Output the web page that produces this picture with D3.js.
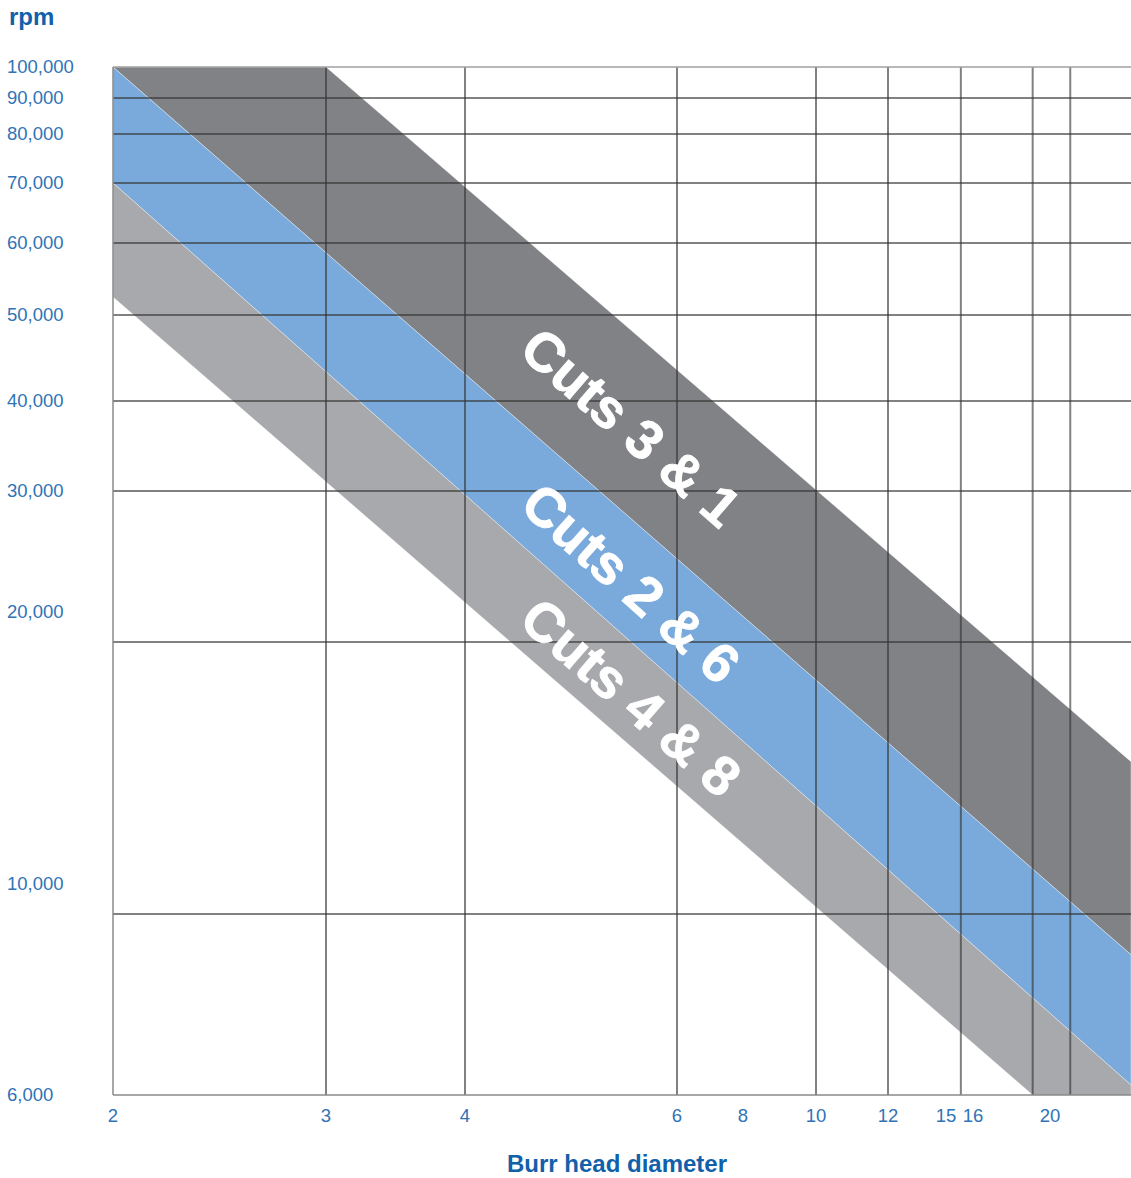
<!DOCTYPE html>
<html>
<head>
<meta charset="utf-8">
<script src="https://cdn.jsdelivr.net/npm/d3@7"></script>
<style>
  body { margin: 0; background: #fff; }
  svg { display: block; font-family: "Liberation Sans", Arial, sans-serif; }
</style>
</head>
<body>
<div id="chart"></div>
<script>
// tick labels
const xTickValues = [2, 3, 4, 6, 8, 10, 12, 15, 16, 20];
const yTickValues = [100000, 90000, 80000, 70000, 60000, 50000, 40000, 30000, 20000, 10000, 6000];
// grid lines (the vertical ones sit off the labels in the original)
const xGridValues = [3, 4, 6, 10, 12, 15.55, 19.1, 21];
const yGridValues = [90000, 80000, 70000, 60000, 50000, 40000, 30000, 20000, 10000];

// bands: upper and lower edge, each from left end to right end (diameter, rpm)
const bandNames = ["Cuts 3 & 1", "Cuts 2 & 6", "Cuts 4 & 8"];
const bandUpper = [
  [[3, 100000], [24, 15600]],
  [[2, 100000], [24, 9100]],
  [[2, 70000], [24, 6220]]
];
const bandLower = [
  [[2, 100000], [24, 9100]],
  [[2, 70000], [24, 6220]],
  [[2, 52500], [19.1, 6000]]
];
const bandLabelAt = 5.57; // diameter where the labels are centred

// ---- layout ----
const W = 1131, H = 1178;
const m = { left: 113, top: 67, right: 1131, bottom: 1095 };
const blueText = "#2f73b6", blueTitle = "#1160aa";
const bandColors = ["#818285", "#7aaadb", "#a8a9ac"];

// the original axes are hand drawn, so both scales are piecewise
const x = d3.scaleLinear()
  .domain([2, 3, 4, 6, 8, 10, 12, 15, 16, 20, 24])
  .range([m.left, 326, 465, 677, 743, 816, 888, 946, 973, 1050, m.right]);
const y = d3.scaleLinear()
  .domain([100000, 90000, 80000, 70000, 60000, 50000, 40000, 30000, 20000, 10000, 6000])
  .range([m.top, 98, 134, 183, 243, 315, 401, 491, 642, 914, m.bottom]);

const svg = d3.select("#chart").append("svg")
  .attr("width", W)
  .attr("height", H);

svg.append("clipPath").attr("id", "plot")
  .append("rect")
  .attr("x", m.left).attr("y", m.top)
  .attr("width", m.right - m.left).attr("height", m.bottom - m.top);

const px = p => [x(p[0]), y(p[1])];
// extend a pixel-space edge to the right border
function toRight(edge) {
  const a = px(edge[0]), b = px(edge[1]);
  const k = (b[1] - a[1]) / (b[0] - a[0]);
  return [a, [m.right, a[1] + k * (m.right - a[0])]];
}

const bands = svg.append("g").attr("clip-path", "url(#plot)");
bandNames.forEach((name, i) => {
  const up = toRight(bandUpper[i]);
  const lo = toRight(bandLower[i]);
  const pts = [up[0], up[1], lo[1], lo[0]];
  bands.append("path")
    .attr("d", "M" + pts.join("L") + "Z")
    .attr("fill", bandColors[i])
    .attr("stroke", "#ffffff")
    .attr("stroke-opacity", 0.45)
    .attr("stroke-width", 0.8);
});

// grid
const grid = svg.append("g")
  .attr("stroke", "#333")
  .attr("stroke-opacity", 0.62)
  .attr("stroke-width", 2);
grid.selectAll(".h").data(yGridValues).enter().append("line")
  .attr("x1", m.left).attr("x2", m.right)
  .attr("y1", d => y(d)).attr("y2", d => y(d));
grid.selectAll(".v").data(xGridValues).enter().append("line")
  .attr("y1", m.top).attr("y2", m.bottom)
  .attr("x1", d => x(d)).attr("x2", d => x(d));

// frame
svg.append("line").attr("x1", m.left).attr("x2", m.right)
  .attr("y1", y(100000)).attr("y2", y(100000))
  .attr("stroke", "#a0a0a0").attr("stroke-width", 1.5);
svg.append("line").attr("x1", m.left).attr("x2", m.right)
  .attr("y1", y(6000)).attr("y2", y(6000))
  .attr("stroke", "#8a8a8a").attr("stroke-width", 1.5);
svg.append("line").attr("x1", x(2)).attr("x2", x(2))
  .attr("y1", m.top).attr("y2", m.bottom)
  .attr("stroke", "#8a8a8a").attr("stroke-width", 1.5);

// band labels, rotated along the band
bandNames.forEach((name, i) => {
  const up = toRight(bandUpper[i]);
  const lo = toRight(bandLower[i]);
  const cx = x(bandLabelAt);
  const yAt = e => e[0][1] + (e[1][1] - e[0][1]) * (cx - e[0][0]) / (e[1][0] - e[0][0]);
  const cy = (yAt(up) + yAt(lo)) / 2;
  const ang = Math.atan2(lo[1][1] - lo[0][1], lo[1][0] - lo[0][0]) * 180 / Math.PI;
  svg.append("text")
    .attr("transform", `translate(${cx},${cy + 2}) rotate(${ang})`)
    .attr("text-anchor", "middle")
    .attr("dy", "0.36em")
    .attr("fill", "#fff")
    .attr("stroke", "#fff")
    .attr("stroke-width", 0.8)
    .attr("font-weight", "bold")
    .attr("font-size", 55)
    .text(name);
});

// tick labels
const fmt = d3.format(",");
svg.append("g").selectAll("text").data(yTickValues).enter().append("text")
  .attr("x", 7)
  .attr("y", d => (d === 20000 || d === 10000) ? y(d) - 30 : y(d))
  .attr("dy", "0.35em")
  .attr("fill", blueText)
  .attr("font-size", 18.5)
  .text(d => fmt(d));

svg.append("g").selectAll("text").data(xTickValues).enter().append("text")
  .attr("x", d => x(d))
  .attr("y", 1122)
  .attr("text-anchor", "middle")
  .attr("fill", blueText)
  .attr("font-size", 18.5)
  .text(d => d);

// axis titles
svg.append("text")
  .attr("x", 9).attr("y", 25)
  .attr("fill", blueTitle)
  .attr("font-weight", "bold")
  .attr("font-size", 24)
  .text("rpm");
svg.append("text")
  .attr("x", 617).attr("y", 1172)
  .attr("text-anchor", "middle")
  .attr("fill", blueTitle)
  .attr("font-weight", "bold")
  .attr("font-size", 24)
  .text("Burr head diameter");
</script>
</body>
</html>
